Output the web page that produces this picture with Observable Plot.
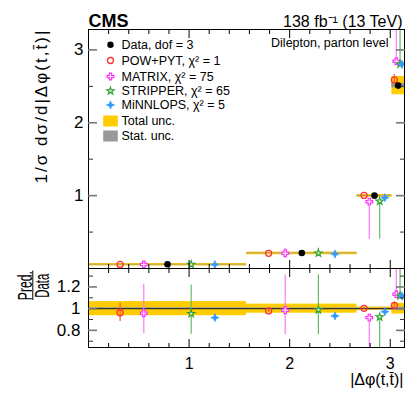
<!DOCTYPE html>
<html><head><meta charset="utf-8">
<script src="https://cdn.jsdelivr.net/npm/d3@7"></script>
<script src="https://cdn.jsdelivr.net/npm/@observablehq/plot@0.6"></script>
<style>
body{margin:0;background:#fff;}
#chart{position:relative;width:407px;height:394px;overflow:hidden;font-family:"Liberation Sans",Arial,Helvetica,sans-serif;background:#fff;}
#chart svg{position:absolute;left:0;overflow:visible;}
</style></head><body><div id="chart"></div>
<script>
// ---- data ----
const binEdges = [0, 1.5708, 2.6704, 3.0159, 3.1416];
const dataValues = [0.058, 0.213, 1.0, 2.51];
const totalUnc = [0.065, 0.042, 0.015, 0.05];   // relative
const statUnc = [0.008, 0.006, 0.004, 0.012];   // relative

const modelNames = ["POW+PYT", "MATRIX", "STRIPPER", "MiNNLOPS"];
const modelChi2 = [1, 75, 65, 5];
const powRatio = [0.962, 0.979, 1.003, 1.031];
const powErrLo = [0.08, 0.015, 0.01, 0.02];
const powErrHi = [0.09, 0.015, 0.01, 0.03];
const matrixRatio = [0.958, 0.985, 0.917, 1.133];
const matrixErrLo = [0.19, 0.225, 0.52, 0];
const matrixErrHi = [0.267, 0.325, 0, 0.4];
const stripperRatio = [0.954, 0.988, 0.923, 1.117];
const stripperErrLo = [0.19, 0.228, 0.52, 0];
const stripperErrHi = [0.264, 0.322, 0, 0.4];
const minnlopsRatio = [0.917, 0.933, 0.972, 1.117];
const minnlopsErrLo = [0.025, 0.015, 0.015, 0.015];
const minnlopsErrHi = [0.025, 0.015, 0.015, 0.015];

const xMajorTicks = [1, 2, 3];
const xMinorTicks = [0.2, 0.4, 0.6, 0.8, 1.2, 1.4, 1.6, 1.8, 2.2, 2.4, 2.6, 2.8];
const yMajorTop = [1, 2, 3];
const yMinorTop = [0.5, 1.5, 2.5];
const yMajorRatio = [0.8, 1, 1.2];
const yMinorRatio = [0.7, 0.9, 1.1, 1.3];

// ---- styles ----
const star4 = {draw(ctx, size) {
  const r = Math.sqrt(size / Math.PI) * 1.3, w = r * 0.3;
  ctx.moveTo(0, -r); ctx.lineTo(w, -w); ctx.lineTo(r, 0); ctx.lineTo(w, w);
  ctx.lineTo(0, r); ctx.lineTo(-w, w); ctx.lineTo(-r, 0); ctx.lineTo(-w, -w); ctx.closePath();
}};
const legendBox = {draw(ctx) { ctx.rect(-7.3, -5.5, 14.6, 11); }};
const modelStyle = [
  {symbol: "circle", stroke: "#ff3333", fill: "none", bar: "#ff5533", r: 3, sw: 1.3},
  {symbol: "cross", stroke: "#ff33ff", fill: "white", bar: "#ff77ff", r: 2.8, sw: 1.2},
  {symbol: "star", stroke: "#2fa02f", fill: "#d8f0d8", bar: "#66bb66", r: 2.3, sw: 1.1},
  {symbol: star4, stroke: "#3399ff", fill: "#3399ff", bar: "#3399ff", r: 3.2, sw: 0.6}
];
const GOLD = "#ffcc00", GRAY = "#999999";

// ---- tables ----
const bins = dataValues.map((v, i) => ({
  x1: binEdges[i], x2: binEdges[i + 1], xc: (binEdges[i] + binEdges[i + 1]) / 2,
  w: binEdges[i + 1] - binEdges[i], v, tot: totalUnc[i], stat: statUnc[i]
}));
const ratios = [powRatio, matrixRatio, stripperRatio, minnlopsRatio];
const errLo = [powErrLo, matrixErrLo, stripperErrLo, minnlopsErrLo];
const errHi = [powErrHi, matrixErrHi, stripperErrHi, minnlopsErrHi];
const offsets = [-2, -1, 1, 2];
const rows = [];
modelNames.forEach((m, j) => bins.forEach((b, i) => rows.push({
  m: j, x: b.xc + offsets[j] * 0.15 * b.w, v: b.v,
  r: ratios[j][i], lo: errLo[j][i], hi: errHi[j][i]
})));

const FONT = "'Liberation Sans', Arial, Helvetica, sans-serif";
const noText = () => "";
function frameTicks(axis, anchor, ticks, size, stroke = "black", strokeWidth = 1) {
  const f = axis === "x" ? Plot.axisX : Plot.axisY;
  return f({ticks, anchor, tickSize: -size, tickFormat: noText, stroke, strokeWidth, label: null});
}
function allTicks(yMaj, yMin) {
  return [
    frameTicks("x", "top", xMajorTicks, 8), frameTicks("x", "top", xMinorTicks, 4),
    frameTicks("x", "bottom", xMajorTicks, 8), frameTicks("x", "bottom", xMinorTicks, 4),
    frameTicks("y", "left", yMaj, 9, "#777", 1.6), frameTicks("y", "left", yMin, 5, "#333"),
    frameTicks("y", "right", yMaj, 9, "#777", 1.6), frameTicks("y", "right", yMin, 5, "#333")
  ];
}
function modelMarks(yOf, loOf, hiOf) {
  const out = [];
  modelStyle.forEach((s, j) => {
    const d = rows.filter(r => r.m === j);
    out.push(Plot.ruleX(d, {x: "x", y1: loOf, y2: hiOf, stroke: s.bar, strokeWidth: 1.2, clip: true}));
  });
  modelStyle.forEach((s, j) => {
    const d = rows.filter(r => r.m === j);
    out.push(Plot.dot(d, {x: "x", y: yOf, symbol: s.symbol, r: s.r, stroke: s.stroke, fill: s.fill, strokeWidth: s.sw, clip: true}));
  });
  return out;
}

// ---- legend ----
const legendRows = [15.3, 31, 47, 61.5, 75.5];
const legendMarks = [];
legendMarks.push(Plot.dot([0], {frameAnchor: "top-left", dx: 22, dy: legendRows[0], r: 3.2, fill: "black"}));
legendMarks.push(Plot.text(["Data, dof = 3"], {frameAnchor: "top-left", dx: 33, dy: legendRows[0], textAnchor: "start", lineAnchor: "middle", fontSize: 12.5}));
modelStyle.forEach((s, j) => {
  legendMarks.push(Plot.dot([0], {frameAnchor: "top-left", dx: 22, dy: legendRows[j + 1], symbol: s.symbol, r: s.r, stroke: s.stroke, fill: s.fill, strokeWidth: s.sw}));
  legendMarks.push(Plot.text([`${modelNames[j]}, \u03C7\u00B2 = ${modelChi2[j]}`], {frameAnchor: "top-left", dx: 33, dy: legendRows[j + 1], textAnchor: "start", lineAnchor: "middle", fontSize: 12.5}));
});
legendMarks.push(Plot.dot([0], {frameAnchor: "top-left", dx: 22, dy: 91.5, symbol: legendBox, fill: GOLD, r: 5}));
legendMarks.push(Plot.text(["Total unc."], {frameAnchor: "top-left", dx: 33, dy: 91.5, textAnchor: "start", lineAnchor: "middle", fontSize: 12.5}));
legendMarks.push(Plot.dot([0], {frameAnchor: "top-left", dx: 22, dy: 106.5, symbol: legendBox, fill: GRAY, r: 5}));
legendMarks.push(Plot.text(["Stat. unc."], {frameAnchor: "top-left", dx: 33, dy: 106.5, textAnchor: "start", lineAnchor: "middle", fontSize: 12.5}));

const yTitle = "1/\u03C3 d\u03C3/d|\u0394\u03C6(t,t\u0304)|";
const ratioNum = "Pred.", ratioDen = "Data";

// ---- top panel ----
const topPlot = Plot.plot({
  width: 407, height: 268, marginLeft: 88, marginRight: 3, marginTop: 29, marginBottom: 0,
  x: {domain: [0, Math.PI]}, y: {domain: [0, 3.28]},
  style: {fontFamily: FONT, background: "transparent", overflow: "visible"},
  marks: [
    Plot.rect(bins, {x1: "x1", x2: "x2", y1: d => d.v * (1 - d.tot), y2: d => d.v * (1 + d.tot), fill: GOLD}),
    Plot.ruleY(bins, {x1: "x1", x2: "x2", y: "v", stroke: GOLD, strokeWidth: 2.4}),
    Plot.rect(bins, {x1: "x1", x2: "x2", y1: d => d.v * (1 - d.stat), y2: d => d.v * (1 + d.stat), fill: GRAY}),
    Plot.ruleY(bins, {x1: "x1", x2: "x2", y: "v", stroke: GRAY, strokeWidth: 1, strokeOpacity: 0.7}),
    ...modelMarks(d => d.v * d.r, d => d.v * (d.r - d.lo), d => d.v * (d.r + d.hi)),
    Plot.dot(bins, {x: "xc", y: "v", r: 3.3, fill: "black"}),
    Plot.frame({stroke: "black"}),
    ...allTicks(yMajorTop, yMinorTop),
    Plot.axisY({ticks: yMajorTop, anchor: "left", tickSize: 0, tickPadding: 5, fontSize: 17, tickFormat: d => String(d), label: null}),
    ...legendMarks,
    Plot.text(["CMS"], {frameAnchor: "top-left", dx: 0, dy: -3, textAnchor: "start", lineAnchor: "bottom", fontSize: 18, fontWeight: "bold"}),
    Plot.text(["138 fb\u207B\u00B9 (13 TeV)"], {frameAnchor: "top-right", dx: -2, dy: -3, textAnchor: "end", lineAnchor: "bottom", fontSize: 16}),
    Plot.text(["Dilepton, parton level"], {frameAnchor: "top-right", dx: -16, dy: 17.7, textAnchor: "end", lineAnchor: "bottom", fontSize: 12.5}),
    Plot.text([yTitle], {frameAnchor: "top-left", dx: -42, dy: 1, rotate: -90, textAnchor: "end", lineAnchor: "bottom", fontSize: 17})
  ]
});
d3.select(topPlot).selectAll("text").filter(function() { return this.textContent === yTitle; })
  .attr("textLength", 153).attr("lengthAdjust", "spacing");

// ---- ratio panel ----
const botPlot = Plot.plot({
  width: 407, height: 126, marginLeft: 88, marginRight: 3, marginTop: 0, marginBottom: 47,
  x: {domain: [0, Math.PI]}, y: {domain: [0.642, 1.37]},
  style: {fontFamily: FONT, background: "transparent", overflow: "visible"},
  marks: [
    Plot.rect(bins, {x1: "x1", x2: "x2", y1: d => 1 - d.tot, y2: d => 1 + d.tot, fill: GOLD}),
    Plot.rect(bins, {x1: "x1", x2: "x2", y1: d => 1 - d.stat, y2: d => 1 + d.stat, fill: GRAY}),
    Plot.ruleY([1], {stroke: "#333", strokeWidth: 1.3}),
    ...modelMarks(d => d.r, d => d.r - d.lo, d => d.r + d.hi),
    Plot.frame({stroke: "black"}),
    ...allTicks(yMajorRatio, yMinorRatio),
    Plot.axisY({ticks: yMajorRatio, anchor: "left", tickSize: 0, tickPadding: 8, fontSize: 17, tickFormat: d => String(d), label: null}),
    Plot.axisX({ticks: xMajorTicks, anchor: "bottom", tickSize: 0, tickPadding: 10, fontSize: 16, tickFormat: d => String(d), label: null}),
    Plot.text(["|\u0394\u03C6(t,t\u0304)|"], {frameAnchor: "bottom-right", dx: -1, dy: 37, textAnchor: "end", lineAnchor: "bottom", fontSize: 16}),
    Plot.text([ratioNum], {frameAnchor: "top-left", dx: -56.7, dy: 17.2, rotate: -90, textAnchor: "middle", lineAnchor: "bottom", fontSize: 20}),
    Plot.text([ratioDen], {frameAnchor: "top-left", dx: -39.7, dy: 17.2, rotate: -90, textAnchor: "middle", lineAnchor: "bottom", fontSize: 20})
  ]
});
const bsel = d3.select(botPlot);
bsel.selectAll("text").filter(function() { return this.textContent === ratioNum; })
  .attr("textLength", 29).attr("lengthAdjust", "spacingAndGlyphs");
bsel.selectAll("text").filter(function() { return this.textContent === ratioDen; })
  .attr("textLength", 24).attr("lengthAdjust", "spacingAndGlyphs");
// fraction bar of the ratio-axis title
bsel.append("line").attr("x1", 32.8).attr("x2", 32.8).attr("y1", 2.5).attr("y2", 32)
  .attr("stroke", "black").attr("stroke-width", 1);

const chart = document.getElementById("chart");
topPlot.style.top = "0px";
botPlot.style.top = "268px";
chart.appendChild(topPlot);
chart.appendChild(botPlot);
</script></body></html>
